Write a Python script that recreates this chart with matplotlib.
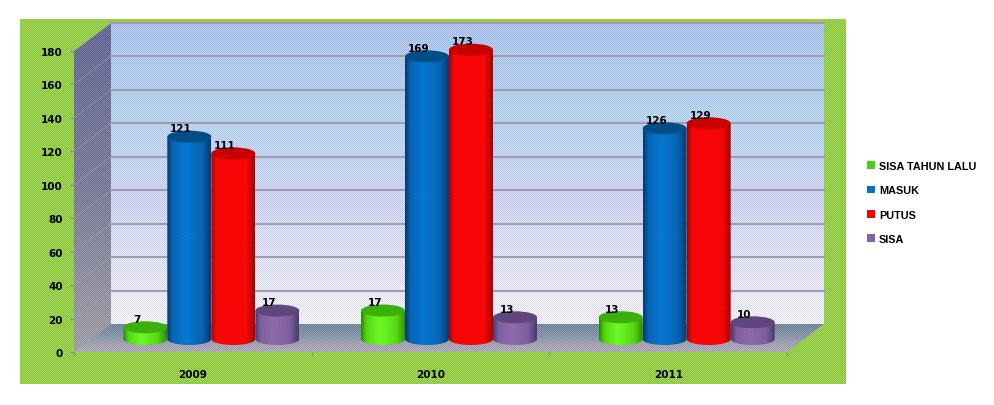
import numpy as np
import matplotlib
matplotlib.use('Agg')
import matplotlib.pyplot as plt
from matplotlib.patches import Ellipse, Patch, PathPatch, Polygon
from matplotlib.path import Path

# chart values
years = ['2009', '2010', '2011']
series = ['SISA TAHUN LALU', 'MASUK', 'PUTUS', 'SISA']
sisa_tahun_lalu = [7, 17, 13]
masuk = [121, 169, 126]
putus = [111, 173, 129]
sisa = [17, 13, 10]
y_ticks = list(range(0, 181, 20))

# edge, mid, highlight, top colours of each cylinder
palette = [
    ((50, 140, 0), (85, 215, 20), (110, 250, 40), (60, 175, 10)),
    ((0, 60, 115), (0, 100, 180), (0, 120, 210), (0, 78, 135)),
    ((165, 0, 0), (250, 0, 0), (255, 0, 0), (200, 0, 0)),
    ((75, 60, 110), (125, 95, 160), (145, 105, 170), (95, 70, 125)),
]
legend_colors = ['#46d210', '#0070c8', '#ff0000', '#7f63a5']

W, H = 995, 406
plt.rcParams['font.family'] = ['DejaVu Sans']
plt.rcParams['font.weight'] = 'bold'
plt.rcParams['font.size'] = 7.5

fig = plt.figure(figsize=(W / 100, H / 100), dpi=100)
fig.patch.set_facecolor('white')


def checker(shape, amount):
    # the source picture is dithered, so mimic it with a small checker
    yy, xx = np.indices(shape)
    return ((xx + yy) % 2 * 2 - 1)[..., None] * amount


# green panel behind everything
bg = fig.add_axes([20 / W, 1 - 385 / H, 826 / W, 365 / H], zorder=-1)
bg.axis('off')
panel = np.ones((365, 826, 3)) * np.array([150, 205, 75]) + checker((365, 826), 14)
bg.imshow(np.clip(panel, 0, 255) / 255, aspect='auto', interpolation='nearest')

# axes is the front plane of the 3D box
ax = fig.add_axes([74 / W, 1 - 353 / H, 713 / W, 301 / H])
ax.patch.set_alpha(0)
DX = 37 / 713 * 3
DY = 28 / 301 * 180
BAR_W = 44 / 713 * 3
RY = 6 / 301 * 180
BASE = DY / 2 - 1 / 301 * 180


def shade(poly, stops, extent, zorder, amount=14):
    # vertical gradient, clipped to a polygon given in data coordinates
    px_h = int((extent[3] - extent[2]) * 301 / 180)
    px_w = int((extent[1] - extent[0]) * 713 / 3)
    pos = np.linspace(0, 1, px_h)
    rgb = np.stack([np.interp(pos, [s[0] for s in stops], [s[1][c] for s in stops])
                    for c in range(3)], axis=1)
    arr = np.repeat(rgb[:, None, :], px_w, axis=1) + checker((px_h, px_w), amount)
    im = ax.imshow(np.clip(arr, 0, 255) / 255, extent=extent, aspect='auto',
                   interpolation='nearest', zorder=zorder)
    clip = Polygon(poly, closed=True, transform=ax.transData, fc='none', ec='none')
    ax.add_patch(clip)
    im.set_clip_path(clip)
    im.set_clip_box(fig.bbox)


# back wall
shade([(DX, DY), (3 + DX, DY), (3 + DX, 180 + DY), (DX, 180 + DY)],
      [(0, (172, 194, 234)), (0.3, (182, 210, 236)), (0.6, (206, 210, 245)), (1, (238, 238, 255))],
      [DX, 3 + DX, DY, 180 + DY], 1)
# left wall
shade([(0, 0), (DX, DY), (DX, 180 + DY), (0, 180)],
      [(0, (104, 108, 150)), (0.5, (125, 125, 155)), (1, (160, 160, 168))],
      [0, DX, 0, 180 + DY], 1)
# floor
shade([(0, 0), (3, 0), (3 + DX, DY), (DX, DY)],
      [(0, (115, 138, 160)), (0.4, (130, 148, 166)), (0.75, (165, 165, 178)), (1, (172, 172, 182))],
      [0, 3 + DX, 0, DY], 1)

for t in y_ticks[1:]:
    ax.plot([DX, 3 + DX], [t + DY, t + DY], color='#a09cb0', lw=1.5, zorder=2, clip_on=False)
    ax.plot([0, DX], [t, t + DY], color='#aaa896', lw=0.5, alpha=0.6, zorder=2, clip_on=False)


def cylinder(cx, value, colors, zorder):
    edge, mid, high, top = colors
    t = np.linspace(np.pi, 2 * np.pi, 40)
    xs = cx + BAR_W / 2 * np.cos(t)
    low = BASE + RY * np.sin(t)
    verts = list(zip(xs, low)) + [(cx + BAR_W / 2, BASE + value), (cx - BAR_W / 2, BASE + value)]
    body = PathPatch(Path(verts + [verts[0]]), transform=ax.transData, fc='none', ec='none')
    ax.add_patch(body)

    px_w, px_h = 44, max(int((value + 2 * RY) * 301 / 180), 4)
    pos = np.linspace(0, 1, px_w)
    stops = [0, 0.12, 0.42, 0.8, 1]
    cols = [edge, mid, high, mid, edge]
    rgb = np.stack([np.interp(pos, stops, [c[i] for c in cols]) for i in range(3)], axis=1)
    arr = np.repeat(rgb[None, :, :], px_h, axis=0) + checker((px_h, px_w), 10)
    im = ax.imshow(np.clip(arr, 0, 255) / 255, aspect='auto', interpolation='nearest',
                   extent=[cx - BAR_W / 2, cx + BAR_W / 2, BASE - RY, BASE + value + RY],
                   zorder=zorder)
    im.set_clip_path(body)
    im.set_clip_box(fig.bbox)

    ax.add_patch(Ellipse((cx, BASE + value), BAR_W, 2 * RY, fc=np.array(top) / 255,
                         ec='none', zorder=zorder + 0.1, clip_on=False))
    ax.annotate(str(value), (cx, BASE + value), xytext=(-6, 6), textcoords='offset points',
                ha='center', va='center', color='black',
                zorder=zorder + 0.2, annotation_clip=False)


all_values = [sisa_tahun_lalu, masuk, putus, sisa]
z = 3
for g in range(len(years)):
    for s, values in enumerate(all_values):
        cx = g + 0.5 + DX / 2 + (s - 1.5) * BAR_W
        cylinder(cx, values[g], palette[s], z)
        z += 1

ax.set_xlim(0, 3)
ax.set_ylim(0, 180)
for side in ax.spines.values():
    side.set_visible(False)
ax.set_yticks(y_ticks)
ax.set_xticks([0, 1, 2, 3])
ax.set_xticklabels([])
ax.set_xticks([0.5, 1.5, 2.5], minor=True)
ax.set_xticklabels(years, minor=True)
ax.tick_params(axis='x', which='major', length=3, color='#8c8c96', width=0.8)
ax.tick_params(axis='x', which='minor', length=0, pad=12)
ax.tick_params(axis='y', length=3, color='#8c8c96', width=0.8, pad=5)

handles = [Patch(facecolor=c, edgecolor='none') for c in legend_colors]
fig.legend(handles, series, loc='upper left', bbox_to_anchor=(867 / W, 1 - 162 / H),
           frameon=False, borderpad=0, borderaxespad=0, handlelength=0.7, handleheight=0.7,
           handletextpad=0.4, labelspacing=1.32,
           prop={'family': 'Liberation Sans', 'weight': 'bold', 'size': 7.8})

fig.savefig('out.png', dpi=100)
